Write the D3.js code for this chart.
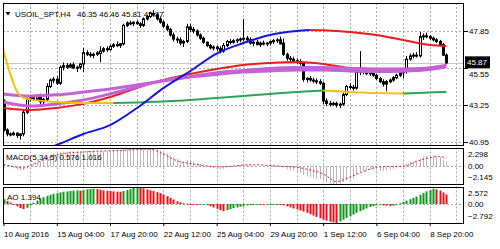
<!DOCTYPE html>
<html>
<head>
<meta charset="utf-8">
<script src="https://cdn.jsdelivr.net/npm/d3@7"></script>
<style>
body { margin: 0; background: #fff; }
svg { display: block; }
text { font-family: "Liberation Sans", Arial, sans-serif; font-size: 8px; fill: #000; }
</style>
</head>
<body>
<svg id="chart" width="500" height="249"></svg>
<script>
// ---- data ----
const symbolTitle = "USOIL_SPT,H4";
const ohlcTitle = "46.35 46.46 45.81 45.87";
const macdTitle = "MACD(5,34,5) 0.576 1.016";
const aoTitle = "AO 1.394";

// one row per H4 bar: [open, high, low, close]
const candles = [
  [43.50,43.60,41.60,41.70],[41.70,41.80,41.30,41.45],[41.45,41.55,41.30,41.40],[41.40,41.60,41.35,41.50],
  [41.50,41.55,41.20,41.35],[41.35,41.50,41.10,41.45],[41.45,42.90,41.30,42.80],[42.80,43.80,42.70,43.60],
  [43.60,43.85,43.45,43.70],[43.70,43.80,43.50,43.60],[43.60,43.90,43.55,43.80],[43.80,43.95,43.30,43.45],
  [43.45,43.70,43.25,43.60],[43.60,44.60,43.50,44.40],[44.40,44.90,44.30,44.80],[44.80,45.00,44.60,44.85],
  [44.85,45.05,44.50,44.60],[44.60,45.70,44.50,45.60],[45.60,45.90,45.40,45.70],[45.70,45.85,45.50,45.60],
  [45.60,45.85,45.55,45.75],[45.75,45.90,45.50,45.55],[45.55,45.70,45.30,45.60],[45.60,45.85,45.45,45.80],
  [45.80,46.80,45.30,46.50],[46.50,46.65,46.30,46.40],[46.40,46.55,46.20,46.35],[46.35,46.50,46.15,46.40],
  [46.40,46.60,46.30,46.50],[46.45,46.90,45.90,46.60],[46.60,46.85,46.50,46.75],[46.75,46.90,46.55,46.70],
  [46.70,47.00,46.60,46.90],[46.90,47.10,46.80,47.00],[47.00,47.20,46.85,46.95],[46.95,47.10,46.80,47.05],
  [47.05,48.30,46.95,48.20],[48.20,48.45,48.10,48.35],[48.35,48.50,48.20,48.30],[48.30,48.45,48.15,48.40],
  [48.40,48.50,48.25,48.30],[48.30,48.40,48.05,48.20],[48.20,48.70,48.10,48.60],[48.60,48.85,48.50,48.75],
  [48.75,49.05,48.65,48.95],[48.95,49.15,48.75,48.85],[48.85,48.95,48.50,48.60],[48.60,48.75,48.30,48.40],
  [48.40,48.50,48.05,48.15],[48.15,48.30,47.85,47.95],[47.95,48.05,47.50,47.60],[47.60,47.75,47.20,47.35],
  [47.35,47.50,47.10,47.30],[47.30,47.45,46.95,47.10],[47.10,47.30,46.85,47.20],[47.20,48.30,47.10,48.10],
  [48.10,48.30,47.80,47.95],[47.95,48.10,47.70,47.85],[47.85,47.95,47.50,47.60],[47.60,47.70,47.30,47.40],
  [47.40,47.50,47.05,47.15],[47.15,47.20,46.85,46.95],[46.95,47.05,46.70,46.80],[46.80,46.95,46.65,46.85],
  [46.85,46.95,46.60,46.75],[46.75,46.90,46.45,46.60],[46.60,47.10,46.50,46.95],[46.95,47.30,46.85,47.20],
  [47.20,47.35,47.00,47.15],[47.15,47.35,47.05,47.25],[47.25,47.40,47.10,47.30],[47.30,47.45,47.15,47.35],
  [47.35,48.60,47.20,47.40],[47.40,47.55,47.15,47.30],[47.30,47.45,47.00,47.10],[47.10,47.25,46.90,47.15],
  [47.15,47.30,46.95,47.00],[47.00,47.20,46.85,47.10],[47.10,47.25,46.95,47.05],[47.05,47.15,46.90,47.10],
  [47.10,47.25,46.95,47.20],[47.20,47.35,47.05,47.25],[47.25,47.40,47.10,47.30],[47.30,47.50,47.00,47.05],
  [47.10,47.40,46.30,46.40],[46.40,46.50,46.00,46.15],[46.15,46.30,45.90,46.10],[46.10,46.25,45.85,46.00],
  [46.00,46.15,45.80,45.95],[45.95,46.10,45.70,45.85],[45.85,45.95,44.70,44.85],[44.85,45.00,44.65,44.90],
  [44.90,45.05,44.70,44.80],[44.80,44.95,44.60,44.75],[44.75,44.90,44.55,44.70],[44.70,44.85,44.50,44.60],
  [44.60,44.70,43.30,43.50],[43.50,43.65,43.20,43.35],[43.35,43.50,43.15,43.30],[43.30,43.45,43.20,43.35],
  [43.35,43.45,43.10,43.25],[43.25,43.40,43.05,43.30],[43.30,44.00,43.20,43.90],[43.90,44.50,43.80,44.40],
  [44.40,44.60,44.20,44.35],[44.35,44.50,44.15,44.30],[44.30,45.40,44.20,45.30],[45.30,46.60,45.10,45.35],
  [45.35,45.45,45.15,45.30],[45.30,45.45,45.10,45.20],[45.20,45.35,45.05,45.25],[45.25,45.40,45.00,45.10],
  [45.10,45.20,44.80,44.90],[44.90,45.00,44.60,44.70],[44.70,44.85,44.40,44.55],[44.55,44.80,44.10,44.70],
  [44.70,44.90,44.60,44.80],[44.80,45.05,44.70,44.95],[44.95,45.20,44.85,45.10],[45.10,45.30,45.00,45.25],
  [45.25,45.45,44.90,45.35],[45.35,46.30,45.20,46.10],[46.10,46.45,46.00,46.30],[46.30,46.50,46.15,46.35],
  [46.35,46.55,46.20,46.30],[46.30,47.80,46.20,47.50],[47.50,47.70,47.30,47.55],[47.55,47.75,47.40,47.50],
  [47.50,47.60,47.30,47.40],[47.40,47.50,47.20,47.30],[47.30,47.40,47.10,47.20],[47.20,47.30,46.90,47.00],
  [47.00,47.10,46.30,46.35],[46.35,46.46,45.81,45.87]
];
const lastPrice = 45.87;

// moving averages, [bar index, price]
const trendUp = [[8,40.20],[16,40.77],[24,41.45],[32,42.00],[40,43.05],[48,44.30],[56,45.35],[64,46.45],
  [72,47.10],[80,47.60],[88,47.85],[92,47.91]];
const trendDown = [[92,47.91],[96,47.89],[104,47.79],[112,47.60],[120,47.29],[128,46.98],[133,46.92]];
const slowRed = [[0,43.07],[8,42.94],[16,43.07],[24,43.32],[32,43.75],[40,44.31],[48,44.81],[56,45.18],
  [64,45.49],[72,45.74],[80,45.86],[88,45.92],[96,45.80],[104,45.55],[112,45.50],[120,45.50],[128,45.57],[133,45.72]];
const purpleA = [[0,43.94],[8,43.81],[16,43.88],[24,44.06],[32,44.25],[40,44.50],[48,44.74],[56,45.00],
  [64,45.25],[72,45.40],[80,45.52],[88,45.58],[96,45.58],[104,45.52],[112,45.47],[120,45.47],[128,45.55],[133,45.72]];
const purpleB = [[0,43.44],[8,43.19],[16,43.32],[24,43.56],[32,43.94],[40,44.37],[48,44.78],[56,45.00],
  [64,45.15],[72,45.30],[80,45.37],[88,45.43],[96,45.42],[104,45.37],[112,45.33],[120,45.35],[128,45.45],[133,45.62]];
const goldA = [[0,46.60],[1,45.90],[2,45.20],[3,44.60],[4,44.10],[5,43.85],[6,43.70],[8,43.60],[16,43.44],[24,43.38],[33,43.38]];
const greenA = [[33,43.38],[40,43.41],[48,43.47],[56,43.56],[64,43.69],[72,43.81],[80,43.94],[88,44.06],[96,44.15]];
const goldB = [[96,44.15],[104,44.06],[112,43.99],[120,43.97]];
const greenB = [[120,43.97],[128,44.03],[133,44.06]];

// MACD main (histogram) per bar and signal
const macdHist = [
  0.30,0.10,-0.10,-0.25,-0.40,-0.50,-0.45,-0.25,0.00,0.25,
  0.45,0.65,1.00,1.20,1.40,1.55,1.65,1.75,1.80,1.82,
  1.85,1.85,1.85,1.85,1.90,1.92,1.92,1.92,1.90,1.90,
  1.90,1.92,1.95,1.97,1.97,1.98,2.15,2.25,2.28,2.29,
  2.298,2.27,2.25,2.25,2.25,2.20,2.10,1.95,1.80,1.60,
  1.35,1.10,0.90,0.70,0.60,0.75,0.70,0.60,0.45,0.30,
  0.15,0.00,-0.15,-0.25,-0.30,-0.40,-0.30,-0.15,-0.05,0.05,
  0.10,0.15,0.15,0.15,0.10,0.05,0.00,0.00,0.00,0.00,
  0.05,0.10,0.10,0.05,-0.15,-0.35,-0.50,-0.60,-0.70,-0.75,
  -1.05,-1.20,-1.30,-1.40,-1.50,-1.55,-1.85,-2.00,-2.10,-2.14,
  -2.145,-2.10,-1.90,-1.65,-1.50,-1.40,-1.00,-0.75,-0.60,-0.50,
  -0.45,-0.45,-0.50,-0.55,-0.55,-0.50,-0.40,-0.30,-0.15,0.00,
  0.10,0.35,0.50,0.60,0.70,1.00,1.15,1.25,1.30,1.30,
  1.25,1.15,0.85,0.576
];
const macdSignal = [[0,0.25],[4,-0.10],[6,-0.20],[8,0.10],[12,0.80],[16,1.40],[20,1.65],[24,1.75],[28,1.85],
  [32,1.90],[36,1.95],[40,2.05],[44,2.10],[48,1.50],[52,0.70],[56,0.35],[60,0.10],[64,-0.05],[68,0.00],
  [72,0.15],[76,0.20],[80,0.10],[84,0.00],[88,-0.10],[92,-0.45],[96,-0.90],[100,-1.85],[104,-1.30],
  [108,-0.65],[112,-0.10],[116,0.00],[120,0.00],[124,0.60],[128,1.05],[131,1.20],[133,1.016]];

// Awesome Oscillator per bar
const ao = [
  0.70,0.45,0.20,-0.10,-0.35,-0.60,-0.75,-0.55,-0.20,0.20,
  0.50,0.80,1.00,1.20,1.35,1.50,1.60,1.70,1.80,1.85,
  1.90,1.95,2.00,1.95,2.05,2.15,2.20,2.25,2.20,2.10,
  2.00,1.95,1.90,1.85,1.82,1.80,1.90,2.05,2.20,2.40,
  2.57,2.45,2.30,2.15,2.00,1.90,1.75,1.60,1.40,1.15,
  0.90,0.65,0.40,0.25,0.10,0.05,0.00,-0.05,-0.10,-0.05,
  0.00,-0.15,-0.30,-0.50,-0.70,-0.90,-1.05,-0.90,-0.75,-0.60,
  -0.50,-0.40,-0.30,-0.20,-0.15,-0.10,-0.05,-0.10,-0.15,-0.10,
  -0.05,0.00,-0.05,-0.10,-0.20,-0.35,-0.50,-0.65,-0.80,-0.95,
  -1.10,-1.30,-1.50,-1.70,-1.90,-2.10,-2.30,-2.45,-2.60,-2.70,
  -2.79,-2.55,-2.30,-2.05,-1.80,-1.55,-1.30,-1.05,-0.85,-0.65,
  -0.45,-0.30,-0.20,-0.15,-0.20,-0.25,-0.30,-0.25,-0.10,0.10,
  0.30,0.50,0.70,0.90,1.10,1.35,1.60,1.85,2.05,2.25,
  2.15,1.95,1.70,1.394
];

// axes
const priceTicks = [47.85, 45.55, 43.25, 40.95];
const macdTicks = [2.298, 0, -2.145];
const aoTicks = [2.572, 0, -2.792];
const timeIdx = [0, 16, 32, 48, 64, 80, 96, 112, 128];
const timeLabels = ["10 Aug 2016", "15 Aug 04:00", "17 Aug 20:00", "22 Aug 12:00", "25 Aug 04:00",
  "29 Aug 20:00", "1 Sep 12:00", "6 Sep 04:00", "8 Sep 20:00"];

// ---- layout ----
const L = 3, R = 464;
const mainTop = 3, mainBot = 145, macdTop = 147.5, macdBot = 184, aoTop = 186.5, aoBot = 223;

const x = d3.scaleLinear().domain([0, 128]).range([3.5, 429.7]);
const yMain = d3.scaleLinear().domain([40.95, 47.85]).range([142, 31]);
const yMacd = d3.scaleLinear().domain([-2.145, 2.298]).range([macdBot, macdTop]);
const yAo = d3.scaleLinear().domain([-2.792, 2.572]).range([aoBot, aoTop]);

const svg = d3.select("#chart");
svg.append("rect").attr("width", 500).attr("height", 249).attr("fill", "#fff");

const defs = svg.append("defs");
[["clipMain", mainTop, mainBot], ["clipMacd", macdTop, macdBot], ["clipAo", aoTop, aoBot]].forEach(([id, t, b]) => {
  defs.append("clipPath").attr("id", id)
    .append("rect").attr("x", L).attr("y", t).attr("width", R - L).attr("height", b - t);
});

const gridColor = "#a9a9a9";
const gridIdx = d3.range(8, 137, 8);

function vGrid(top, bot) {
  svg.append("g").selectAll("line").data(gridIdx).enter().append("line")
    .attr("x1", d => Math.round(x(d)) + 0.5).attr("x2", d => Math.round(x(d)) + 0.5)
    .attr("y1", top).attr("y2", bot)
    .attr("stroke", gridColor).attr("stroke-dasharray", "2,2");
}
function hGrid(vals, scale) {
  svg.append("g").selectAll("line").data(vals).enter().append("line")
    .attr("x1", L).attr("x2", R)
    .attr("y1", d => Math.round(scale(d)) + 0.5).attr("y2", d => Math.round(scale(d)) + 0.5)
    .attr("stroke", gridColor).attr("stroke-dasharray", "2,2");
}

vGrid(mainTop, mainBot);
vGrid(macdTop, macdBot);
vGrid(aoTop, aoBot);
hGrid(priceTicks, yMain);
hGrid([0], yMacd);
hGrid([0], yAo);

// bid line
svg.append("line")
  .attr("x1", L).attr("x2", R)
  .attr("y1", Math.round(yMain(lastPrice)) + 0.5).attr("y2", Math.round(yMain(lastPrice)) + 0.5)
  .attr("stroke", "#c8c8c8");

// ---- candles ----
const gMain = svg.append("g").attr("clip-path", "url(#clipMain)");
const cg = gMain.selectAll(".candle").data(candles).enter().append("g").attr("class", "candle");
cg.append("line")
  .attr("x1", (d, i) => Math.round(x(i)) + 0.5).attr("x2", (d, i) => Math.round(x(i)) + 0.5)
  .attr("y1", d => yMain(d[1])).attr("y2", d => yMain(d[2]))
  .attr("stroke", "#000");
cg.append("rect")
  .attr("x", (d, i) => Math.round(x(i)) - 0.5)
  .attr("width", 2)
  .attr("y", d => yMain(Math.max(d[0], d[3])))
  .attr("height", d => Math.max(1, Math.abs(yMain(d[0]) - yMain(d[3]))))
  .attr("fill", d => d[3] >= d[0] ? "#fff" : "#000")
  .attr("stroke", "#000").attr("stroke-width", 1);

// ---- moving averages ----
const maLine = d3.line().x(d => x(d[0])).y(d => yMain(d[1])).curve(d3.curveMonotoneX);
const maSeries = [
  { pts: slowRed, color: "#ee1c1c", w: 2 },
  { pts: purpleB, color: "#c462d8", w: 3 },
  { pts: purpleA, color: "#c462d8", w: 3 },
  { pts: goldA, color: "#f2c010", w: 2 },
  { pts: greenA, color: "#2ca55a", w: 2 },
  { pts: goldB, color: "#f2c010", w: 2 },
  { pts: greenB, color: "#2ca55a", w: 2 },
  { pts: trendUp, color: "#1414e6", w: 2 },
  { pts: trendDown, color: "#ee1c1c", w: 2 }
];
gMain.selectAll(".ma").data(maSeries).enter().append("path")
  .attr("class", "ma")
  .attr("d", d => maLine(d.pts))
  .attr("fill", "none")
  .attr("stroke", d => d.color)
  .attr("stroke-width", d => d.w)
  .attr("stroke-linejoin", "round");

// ---- MACD ----
const gMacd = svg.append("g").attr("clip-path", "url(#clipMacd)");
gMacd.selectAll(".mh").data(macdHist).enter().append("line")
  .attr("class", "mh")
  .attr("x1", (d, i) => Math.round(x(i)) + 0.5).attr("x2", (d, i) => Math.round(x(i)) + 0.5)
  .attr("y1", yMacd(0)).attr("y2", d => yMacd(d))
  .attr("stroke", "#b8b8b8");
gMacd.append("path")
  .attr("d", d3.line().x(d => x(d[0])).y(d => yMacd(d[1])).curve(d3.curveMonotoneX)(macdSignal))
  .attr("fill", "none").attr("stroke", "#e0242a").attr("stroke-width", 1)
  .attr("stroke-dasharray", "2,2");

// ---- AO ----
const gAo = svg.append("g").attr("clip-path", "url(#clipAo)");
gAo.selectAll(".ao").data(ao).enter().append("rect")
  .attr("class", "ao")
  .attr("x", (d, i) => Math.round(x(i)) - 0.5)
  .attr("width", 2)
  .attr("y", d => Math.min(yAo(d), yAo(0)))
  .attr("height", d => Math.max(1, Math.abs(yAo(d) - yAo(0))))
  .attr("fill", (d, i) => (i > 0 && d < ao[i - 1]) ? "#e8121b" : "#0d9a18");

// ---- frames ----
[[mainTop, mainBot], [macdTop, macdBot], [aoTop, aoBot]].forEach(([t, b]) => {
  svg.append("rect")
    .attr("x", L + 0.5).attr("y", Math.round(t) + 0.5)
    .attr("width", R - L - 1).attr("height", Math.round(b) - Math.round(t))
    .attr("fill", "none").attr("stroke", "#000");
});

// ---- right price axis ----
const priceAxis = d3.axisRight(yMain).tickValues(priceTicks).tickSize(4).tickPadding(1)
  .tickFormat(d3.format(".2f"));
const pa = svg.append("g").attr("transform", `translate(${R},0)`).call(priceAxis);
pa.select(".domain").remove();
pa.selectAll("line").attr("stroke", "#000");
pa.selectAll("text").attr("font-size", 8.5).attr("font-family", null);
// the grid label right under the last-price box peeks out below it
pa.selectAll(".tick").filter(d => Math.abs(yMain(d) - yMain(lastPrice)) < 10)
  .select("text").attr("dy", "1.05em");

// last price box
const ly = yMain(lastPrice);
svg.append("rect").attr("x", 465).attr("y", ly - 6.5).attr("width", 25).attr("height", 12).attr("fill", "#000");
svg.append("text").attr("x", 467).attr("y", ly + 2.5).style("fill", "#fff")
  .attr("font-size", 8.5).text(d3.format(".2f")(lastPrice));

// sub-window labels (max hangs below top, min sits above bottom)
function subLabels(ticks, scale) {
  svg.append("g").selectAll("text").data(ticks).enter().append("text")
    .attr("x", R + 4)
    .attr("y", (d, i) => scale(d) + (i === 0 ? 9 : i === 2 ? -4 : 3))
    .attr("font-size", 8.5)
    .text(d => d === 0 ? "0.00" : d3.format(".3f")(d));
}
subLabels(macdTicks, yMacd);
subLabels(aoTicks, yAo);

// ---- time axis ----
const timeAxis = d3.axisBottom(x).tickValues(timeIdx).tickSize(3).tickPadding(5)
  .tickFormat((d, i) => timeLabels[i]);
const ta = svg.append("g").attr("transform", `translate(0,${aoBot})`).call(timeAxis);
ta.select(".domain").remove();
ta.selectAll("line").attr("stroke", "#000");
ta.selectAll("text").attr("text-anchor", "start").attr("font-size", 8.5).attr("font-family", null);

// ---- titles ----
svg.append("path").attr("d", "M5.5,12 L10.5,12 L8,15.5 Z").attr("fill", "#000");
svg.append("text").attr("x", 15).attr("y", 17).text(symbolTitle);
svg.append("text").attr("x", 77).attr("y", 17).text(ohlcTitle);
svg.append("text").attr("x", 6).attr("y", 160).text(macdTitle);
svg.append("text").attr("x", 7).attr("y", 200).text(aoTitle);
</script>
</body>
</html>
